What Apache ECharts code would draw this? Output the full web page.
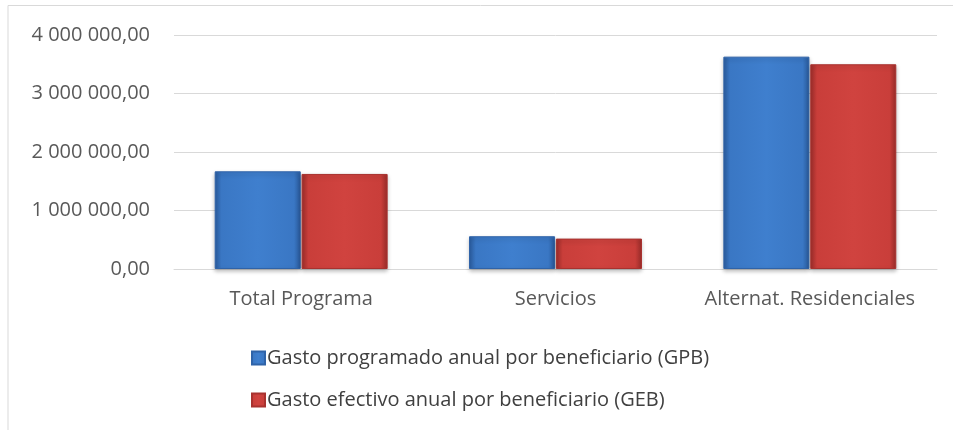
<!DOCTYPE html>
<html>
<head>
<meta charset="utf-8">
<script src="https://cdn.jsdelivr.net/npm/echarts@6/dist/echarts.min.js"></script>
<style>
  html, body { margin: 0; padding: 0; background: #fff; }
  #chart { width: 953px; height: 430px; }
</style>
</head>
<body>
<div id="chart"></div>
<script>
// categorías y valores
var categories = ["Total Programa", "Servicios", "Alternat. Residenciales"];
var seriesNames = [
  "Gasto programado anual por beneficiario (GPB)",
  "Gasto efectivo anual por beneficiario (GEB)"
];
var gpb = [1670000, 560000, 3630000];
var geb = [1625000, 520000, 3500000];

function formatNum(v) {
  // 4 000 000,00
  var s = Math.round(v).toString().replace(/\B(?=(\d{3})+(?!\d))/g, " ");
  return s + ",00";
}

function bevel(light, mid, dark) {
  return new echarts.graphic.LinearGradient(0, 0, 1, 0, [
    { offset: 0, color: dark },
    { offset: 0.08, color: mid },
    { offset: 0.5, color: light },
    { offset: 0.92, color: mid },
    { offset: 1, color: dark }
  ]);
}

var blue = bevel("#3f7fce", "#3a77c4", "#2a5c9e");
var red = bevel("#d0433f", "#c93e3a", "#9c2d2a");
var font = "Open Sans";
var fs = 20;

var chart = echarts.init(document.getElementById("chart"));
var option = {
  animation: false,
  textStyle: { fontFamily: font },
  graphic: [
    {
      type: "polyline",
      shape: { points: [[8, 430], [8, 5.5], [953, 5.5]] },
      style: { stroke: "#d9d9d9", lineWidth: 1, fill: null },
      silent: true
    }
  ],
  grid: { left: 174, right: 16, top: 35, bottom: 161 },
  legend: {
    orient: "vertical",
    left: 246,
    top: 343,
    itemGap: 22,
    itemWidth: 13,
    itemHeight: 13,
    icon: "rect",
    textStyle: { color: "#404040", fontSize: fs, fontFamily: font, padding: [0, 0, 0, -3] },
    data: seriesNames
  },
  xAxis: {
    type: "category",
    data: categories,
    axisLine: { lineStyle: { color: "#d9d9d9", width: 1 } },
    axisTick: { show: false },
    axisLabel: { color: "#595959", fontSize: fs, margin: 20, fontFamily: font, interval: 0 }
  },
  yAxis: {
    type: "value",
    min: 0,
    max: 4000000,
    interval: 1000000,
    axisLine: { show: false },
    axisTick: { show: false },
    splitLine: { lineStyle: { color: "#d9d9d9", width: 1 } },
    axisLabel: {
      color: "#595959",
      fontSize: fs,
      margin: 24,
      fontFamily: font,
      formatter: formatNum
    }
  },
  series: [
    {
      name: seriesNames[0],
      type: "bar",
      data: gpb,
      barGap: "1%",
      barCategoryGap: "32%",
      itemStyle: {
        color: blue,
        borderColor: "#2f63a8",
        borderWidth: 1,
        shadowColor: "rgba(0,0,0,0.25)",
        shadowBlur: 4,
        shadowOffsetY: 2
      }
    },
    {
      name: seriesNames[1],
      type: "bar",
      data: geb,
      itemStyle: {
        color: red,
        borderColor: "#a8322f",
        borderWidth: 1,
        shadowColor: "rgba(0,0,0,0.25)",
        shadowBlur: 4,
        shadowOffsetY: 2
      }
    }
  ]
};
chart.setOption(option);
</script>
</body>
</html>
